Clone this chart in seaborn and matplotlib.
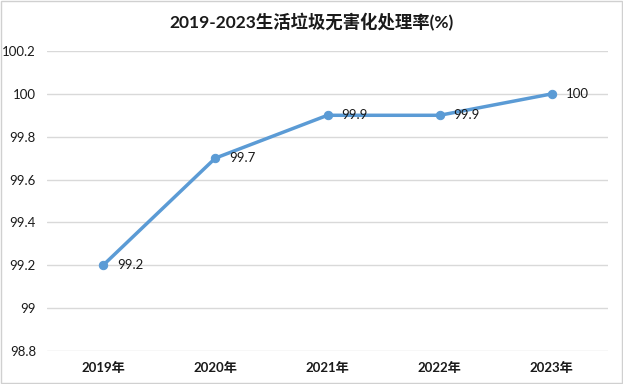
import matplotlib
matplotlib.use("Agg")
import matplotlib.pyplot as plt
import seaborn as sns
import pandas as pd
from matplotlib.patches import Rectangle

years = ["2019年", "2020年", "2021年", "2022年", "2023年"]
rates = [99.2, 99.7, 99.9, 99.9, 100]
yticks = [98.8, 99, 99.2, 99.4, 99.6, 99.8, 100, 100.2]
ytick_labels = ["98.8", "99", "99.2", "99.4", "99.6", "99.8", "100", "100.2"]
title = "2019-2023生活垃圾无害化处理率(%)"

sns.set_theme(style="white")
plt.rcParams['font.family'] = ['Lato', 'Noto Sans CJK SC', 'DejaVu Sans']

df = pd.DataFrame({"year": years, "rate": rates})

fig = plt.figure(figsize=(6.23, 3.84), dpi=100)
ax = fig.add_axes([47/623, 1 - 351/384, (608 - 47)/623, 300/384])

color = "#5B9BD5"
sns.lineplot(data=df, x="year", y="rate", ax=ax, color=color, linewidth=2.5,
             marker="o", markersize=6, markeredgecolor=color, sort=False)

ax.set_xlim(-0.5, len(years) - 0.5)
ax.set_ylim(98.8, 100.2)
ax.set_yticks(yticks)
ax.set_yticklabels(ytick_labels, fontsize=9.5, color="#1a1a1a")
ax.set_xticks(range(len(years)))
ax.set_xticklabels(years, fontsize=9.5, fontweight="bold", color="#1a1a1a")
ax.tick_params(axis="both", length=0, pad=8)
ax.set_xlabel("")
ax.set_ylabel("")
ax.grid(axis="y", color="#d9d9d9", linewidth=1)
ax.set_axisbelow(True)
for s in ax.spines.values():
    s.set_visible(False)

for i, v in enumerate(rates):
    ax.annotate(f"{v:g}", (i, v), xytext=(10, 0), textcoords="offset points",
                ha="left", va="center", fontsize=9.5, color="#1a1a1a")

fig.text(0.5, 1 - 22/384, title, ha="center", va="center", fontsize=12.5,
         fontweight="bold", color="#1a1a1a")

fig.patches.append(Rectangle((0.002, 0.003), 0.996, 0.994, transform=fig.transFigure,
                             fill=False, edgecolor="#d0d0d0", linewidth=1))

fig.savefig("out.png", dpi=100)
